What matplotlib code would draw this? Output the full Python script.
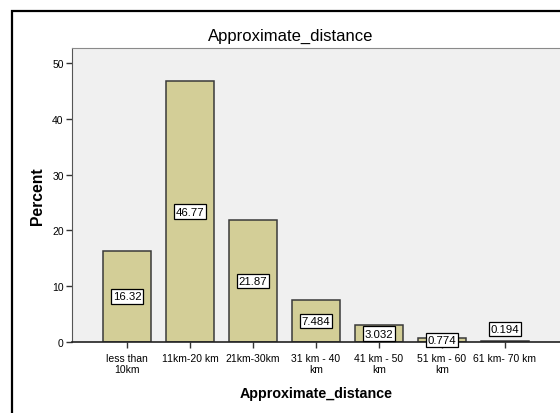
import matplotlib
matplotlib.use('Agg')
import matplotlib.pyplot as plt
from matplotlib.patches import Rectangle

plt.rcParams['font.family'] = ['Liberation Sans', 'DejaVu Sans']

categories = ['less than\n10km', '11km-20 km', '21km-30km', '31 km - 40\nkm',
              '41 km - 50\nkm', '51 km - 60\nkm', '61 km- 70 km']
percent = [16.32, 46.77, 21.87, 7.484, 3.032, 0.774, 0.194]
value_labels = ['16.32', '46.77', '21.87', '7.484', '3.032', '0.774', '0.194']
yticks = [0, 10, 20, 30, 40, 50]

W, H = 560, 414
fig = plt.figure(figsize=(W / 100, H / 100), dpi=100)
fig.patch.set_facecolor('white')

# outer chart frame (cut off at right / bottom in the reference)
fig.patches.append(Rectangle((12 / W, -0.2), 1.2, (H - 12) / H + 0.2,
                             transform=fig.transFigure, fill=False,
                             edgecolor='black', linewidth=1.6))

ax = fig.add_axes([72 / W, (H - 343) / H, (561 - 72) / W, (343 - 49) / H])
ax.set_facecolor('#f0f0f0')

x = range(len(categories))
ax.bar(x, percent, width=0.75, color='#d3ce97', edgecolor='#3a3a3a',
       linewidth=1.1, zorder=2)

# value boxes sit at mid height; the tiny last one is pushed up
label_y = [v / 2 for v in percent]
label_y[-1] = 2.3
for xi, yi, s in zip(x, label_y, value_labels):
    ax.text(xi, yi, s, ha='center', va='center', fontsize=8.2, zorder=3,
            bbox=dict(boxstyle='square,pad=0.18', facecolor='white',
                      edgecolor='black', linewidth=0.9))

ax.set_xlim(-0.873, 6.89)
ax.set_ylim(0, 52.7)
ax.set_xticks(list(x))
ax.set_xticklabels(categories, fontsize=7.5, linespacing=1.05)
ax.set_yticks(yticks)
ax.set_yticklabels([str(t) for t in yticks], fontsize=7.5)
ax.tick_params(axis='both', length=4, width=1, color='#333333', pad=2)
ax.tick_params(axis='x', pad=4)

for side in ['top', 'left']:
    ax.spines[side].set_color('#8a8a8a')
ax.spines['left'].set_color('#555555')
ax.spines['bottom'].set_color('#222222')
ax.spines['bottom'].set_linewidth(1.2)
ax.spines['right'].set_visible(False)

ax.set_xlabel('Approximate_distance', fontsize=10.3, fontweight='bold', labelpad=9)
ax.set_ylabel('Percent', fontsize=11.3, fontweight='bold', labelpad=5)
fig.text(291 / W, 1 - 36 / H, 'Approximate_distance', ha='center', va='center',
         fontsize=12)

fig.savefig('out.png', dpi=100)
